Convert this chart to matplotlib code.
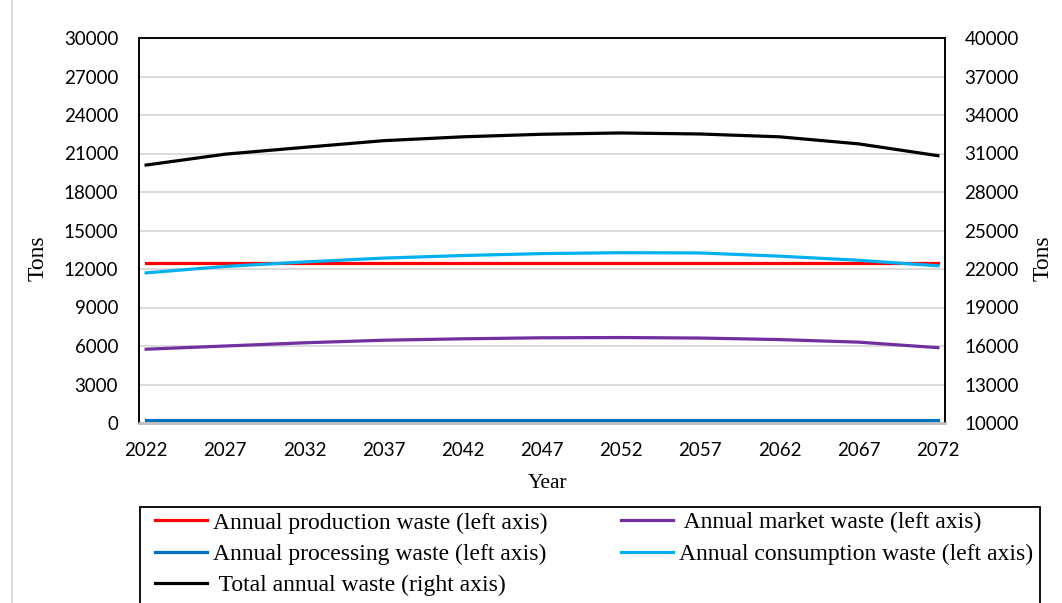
import matplotlib.pyplot as plt
from matplotlib.lines import Line2D
from matplotlib.patches import Rectangle

years = [2022, 2027, 2032, 2037, 2042, 2047, 2052, 2057, 2062, 2067, 2072]
production = [12500, 12500, 12500, 12500, 12500, 12500, 12500, 12500, 12500, 12500, 12500]
market = [5750, 6000, 6250, 6450, 6560, 6640, 6660, 6620, 6500, 6300, 5870]
processing = [200, 200, 200, 200, 200, 200, 200, 200, 200, 200, 200]
consumption = [11700, 12200, 12550, 12850, 13050, 13200, 13270, 13250, 13000, 12680, 12250]
total = [30100, 30950, 31480, 32000, 32300, 32500, 32600, 32520, 32300, 31750, 30830]

left_ticks = list(range(0, 30001, 3000))
right_ticks = list(range(10000, 40001, 3000))

tick_font = 'Lato'
serif = 'Liberation Serif'

fig = plt.figure(figsize=(10.62, 6.03), dpi=100)
ax = fig.add_axes([139/1062, 1-423/603, (945-139)/1062, (423-38)/603])
ax2 = ax.twinx()

lw = 2.3
l1, = ax.plot(years, production, color='#ff0000', lw=lw, label='Annual production waste (left axis)')
l2, = ax.plot(years, market, color='#7030a0', lw=lw, label=' Annual market waste (left axis)')
l3, = ax.plot(years, processing, color='#0070c0', lw=lw, label='Annual processing waste (left axis)')
l4, = ax.plot(years, consumption, color='#00b0f0', lw=lw, label='Annual consumption waste (left axis)')
l5, = ax2.plot(years, total, color='#000000', lw=lw, label=' Total annual waste (right axis)')

ax.set_xlim(2021.55, 2072.45)
ax.set_ylim(0, 30000)
ax2.set_ylim(10000, 40000)
ax.set_xticks(years)
ax.set_yticks(left_ticks)
ax2.set_yticks(right_ticks)
ax.grid(axis='y', color='#d9d9d9', lw=1.3)
ax.set_axisbelow(True)

for a in (ax, ax2):
    a.tick_params(length=0, labelsize=13.5)
    for lab in a.get_xticklabels() + a.get_yticklabels():
        lab.set_fontfamily(tick_font)
    for s in a.spines.values():
        s.set_color('black')
        s.set_linewidth(1.2)
    a.spines['bottom'].set_color('#bfbfbf')
    a.spines['bottom'].set_linewidth(1.8)
ax.tick_params(axis='y', pad=15)
ax.tick_params(axis='x', pad=14)
ax2.tick_params(axis='y', pad=14)

fig.text(38/1062, 1-258/603, 'Tons', rotation=90, ha='center', va='center', family=serif, fontsize=17)
fig.text(1043/1062, 1-258/603, 'Tons', rotation=90, ha='center', va='center', family=serif, fontsize=17)
fig.text(548/1062, 1-483/603, 'Year', ha='center', va='center', family=serif, fontsize=15.5)

# page edge line on the left
fig.add_artist(Line2D([12/1062, 12/1062], [0, 1], color='#d6d6d6', lw=1.2))

# legend box, cut off by the bottom of the image
fig.add_artist(Rectangle((140/1062, -0.05), 900/1062, 1-507/603+0.05, fill=False,
                         edgecolor='black', lw=1.3, transform=fig.transFigure))
# legend fills column by column, so order handles to read row by row
leg = fig.legend(handles=[l1, l3, l5, l2, l4], ncol=2, mode='expand', frameon=False,
                 loc='upper left', bbox_to_anchor=(155/1062, 0, 878/1062, 1-512/603),
                 borderaxespad=0, borderpad=0, handlelength=2.2, handletextpad=0.25,
                 labelspacing=0.42, prop={'family': serif, 'size': 17})

fig.savefig('out.png', dpi=100)
